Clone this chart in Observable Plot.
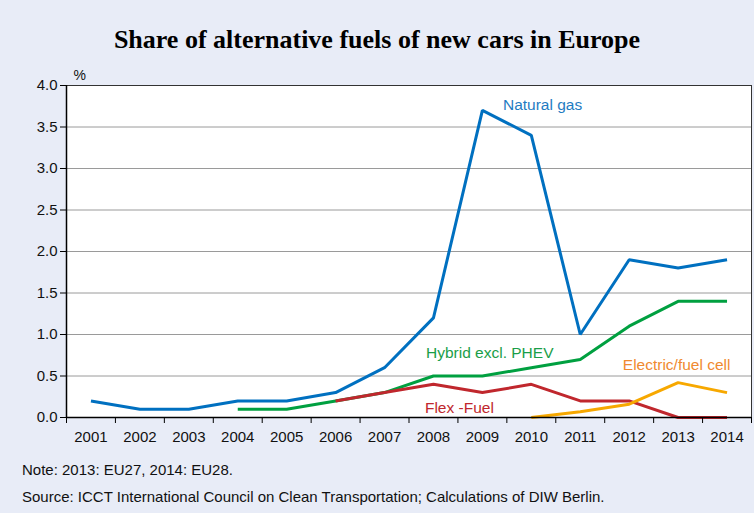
<!DOCTYPE html>
<html>
<head>
<meta charset="utf-8">
<script src="https://cdn.jsdelivr.net/npm/d3@7"></script>
<script src="https://cdn.jsdelivr.net/npm/@observablehq/plot@0.6"></script>
<style>
  html, body { margin: 0; padding: 0; }
  body { width: 754px; height: 513px; background: #E8ECF7; position: relative; overflow: hidden; font-family: "Liberation Sans", Arial, sans-serif; }
  #title { position: absolute; left: 0; top: 23px; width: 754px; text-align: center; font-family: "Liberation Serif", "Times New Roman", serif; font-weight: bold; font-size: 26px; color: #000; line-height: 34px; }
  #chart { position: absolute; left: 0; top: 60px; }
  .note { position: absolute; left: 22px; font-size: 15px; color: #111; line-height: 18px; }
</style>
</head>
<body>
<div id="title">Share of alternative fuels of new cars in Europe</div>
<div id="chart"></div>
<div class="note" style="top:461px">Note: 2013: EU27, 2014: EU28.</div>
<div class="note" style="top:488px">Source: ICCT International Council on Clean Transportation; Calculations of DIW Berlin.</div>
<script>
const years = [2001, 2002, 2003, 2004, 2005, 2006, 2007, 2008, 2009, 2010, 2011, 2012, 2013, 2014];
const yTicks = [0, 0.5, 1, 1.5, 2, 2.5, 3, 3.5, 4];

const naturalGasYears = [2001, 2002, 2003, 2004, 2005, 2006, 2007, 2008, 2009, 2010, 2011, 2012, 2013, 2014];
const naturalGas      = [0.2, 0.1, 0.1, 0.2, 0.2, 0.3, 0.6, 1.2, 3.7, 3.4, 1.0, 1.9, 1.8, 1.9];

const hybridYears = [2004, 2005, 2006, 2007, 2008, 2009, 2010, 2011, 2012, 2013, 2014];
const hybrid      = [0.1, 0.1, 0.2, 0.3, 0.5, 0.5, 0.6, 0.7, 1.1, 1.4, 1.4];

const flexYears = [2006, 2007, 2008, 2009, 2010, 2011, 2012, 2013, 2014];
const flexFuel  = [0.2, 0.3, 0.4, 0.3, 0.4, 0.2, 0.2, 0.0, 0.0];

const electricYears = [2010, 2011, 2012, 2013, 2014];
const electric      = [0.0, 0.07, 0.16, 0.42, 0.3];

const seriesNames  = ["Natural gas", "Hybrid excl. PHEV", "Flex -Fuel", "Electric/fuel cell"];
const lineColors   = ["#0070C0", "#00A040", "#C0272D", "#F7A800"];
const labelColors  = ["#1F7CC2", "#1A9E48", "#C0272D", "#F08A30"];
// annotation anchor positions (in data units)
const labelX = [2010.23, 2009.15, 2008.53, 2012.97];
const labelY = [3.77, 0.78, 0.12, 0.63];

const zip = (ys, vs, name) => ys.map((year, i) => ({year, value: vs[i], name}));
const series = [
  zip(naturalGasYears, naturalGas, seriesNames[0]),
  zip(hybridYears, hybrid, seriesNames[1]),
  zip(flexYears, flexFuel, seriesNames[2]),
  zip(electricYears, electric, seriesNames[3])
];
const labels = seriesNames.map((name, i) => ({name, x: labelX[i], y: labelY[i], color: labelColors[i]}));
const boundaries = d3.range(years.length + 1).map(i => years[0] - 0.5 + i);

const lineOpts = (i) => ({x: "year", y: "value", stroke: lineColors[i], strokeWidth: 3, strokeLinecap: "butt", strokeLinejoin: "miter"});

const chart = Plot.plot({
  width: 754,
  height: 395,
  marginLeft: 66,
  marginRight: 3,
  marginTop: 25,
  marginBottom: 38,
  style: {background: "transparent", fontFamily: "'Liberation Sans', Arial, sans-serif", fontSize: "15px", color: "#111", overflow: "visible"},
  x: {domain: [years[0] - 0.5, years[years.length - 1] + 0.5]},
  y: {domain: [0, 4]},
  marks: [
    Plot.frame({fill: "white", stroke: "none"}),
    Plot.gridY(yTicks, {stroke: "#9a9a9a", strokeOpacity: 1, strokeWidth: 1}),
    Plot.line(series[1], lineOpts(1)),
    Plot.line(series[2], lineOpts(2)),
    Plot.line(series[3], lineOpts(3)),
    Plot.line(series[0], lineOpts(0)),
    Plot.text(labels, {x: "x", y: "y", text: "name", fill: "color", fontSize: 15.5}),
    Plot.frame({stroke: "#333", strokeWidth: 1}),
    Plot.ruleX([boundaries[0]], {stroke: "#000", strokeWidth: 1.5}),
    Plot.ruleY([0], {stroke: "#000", strokeWidth: 1.5}),
    Plot.axisY(yTicks, {tickFormat: d => d.toFixed(1), tickSize: 6, tickPadding: 3, label: null, stroke: "#000"}),
    Plot.axisX(boundaries, {tickSize: 6, tickFormat: () => "", label: null, stroke: "#000"}),
    Plot.axisX(years, {tickSize: 0, tickPadding: 14, tickFormat: d => String(d), label: null}),
    Plot.text(["%"], {frameAnchor: "top-left", dx: 7, dy: -15, fontSize: 14, fill: "#111"})
  ]
});
document.getElementById("chart").appendChild(chart);
</script>
</body>
</html>
